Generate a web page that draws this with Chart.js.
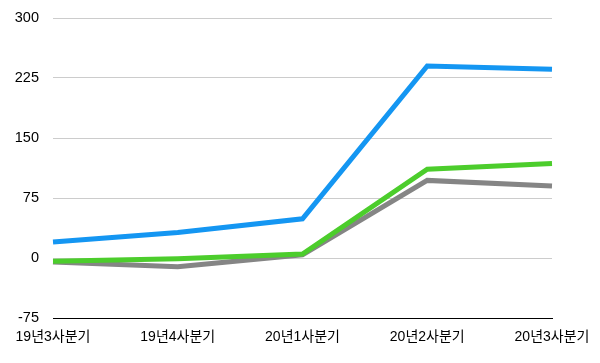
<!DOCTYPE html>
<html><head><meta charset="utf-8">
<script src="https://cdn.jsdelivr.net/npm/chart.js@4/dist/chart.umd.min.js"></script>
<style>html,body{margin:0;padding:0;background:#fff}#w{width:600px;height:363px}</style>
</head><body><div id="w"><canvas id="c"></canvas></div>
<script>
const categories = ['19년3사분기','19년4사분기','20년1사분기','20년2사분기','20년3사분기'];
const blueValues = [20, 32, 49, 240, 236];
const greenValues = [-4, -1, 5, 111, 118];
const grayValues = [-5, -11, 4, 97, 90];
const yTicks = [-75, 0, 75, 150, 225, 300];
const FONT = '"Liberation Sans","Noto Sans CJK KR",sans-serif';
function ds(data, color, order){
  return {data, borderColor: color, borderWidth: 5, pointRadius: 0, fill: false, tension: 0, order,
    borderCapStyle: 'butt', borderJoinStyle: 'miter'};
}
new Chart(document.getElementById('c'), {
  type: 'line',
  data: { labels: categories, datasets: [
    ds(blueValues, '#1496f2', 1),
    ds(greenValues, '#4ccd2c', 2),
    ds(grayValues, '#858585', 3)
  ]},
  options: {
    responsive: true, maintainAspectRatio: false, animation: false,
    layout: { padding: { left: 0, right: 48, top: 0, bottom: 0 } },
    plugins: { legend: { display: false }, tooltip: { enabled: false } },
    scales: {
      x: {
        offset: false,
        grid: { display: false },
        border: { display: true, color: '#000', width: 1 },
        ticks: { color: '#000', font: { family: FONT, size: 14 }, maxRotation: 0, autoSkip: false, padding: 3 },
        afterFit(s){ s.height = 45; }
      },
      y: {
        min: -75, max: 300,
        afterBuildTicks(s){ s.ticks = yTicks.map(v => ({value: v})); },
        grid: { color: '#cccccc', drawTicks: false },
        border: { display: false },
        ticks: { color: '#000', font: { family: FONT, size: 14.5, lineHeight: '8px' }, padding: 14 },
        afterFit(s){ s.width = 53; }
      }
    }
  }
});
</script></body></html>
